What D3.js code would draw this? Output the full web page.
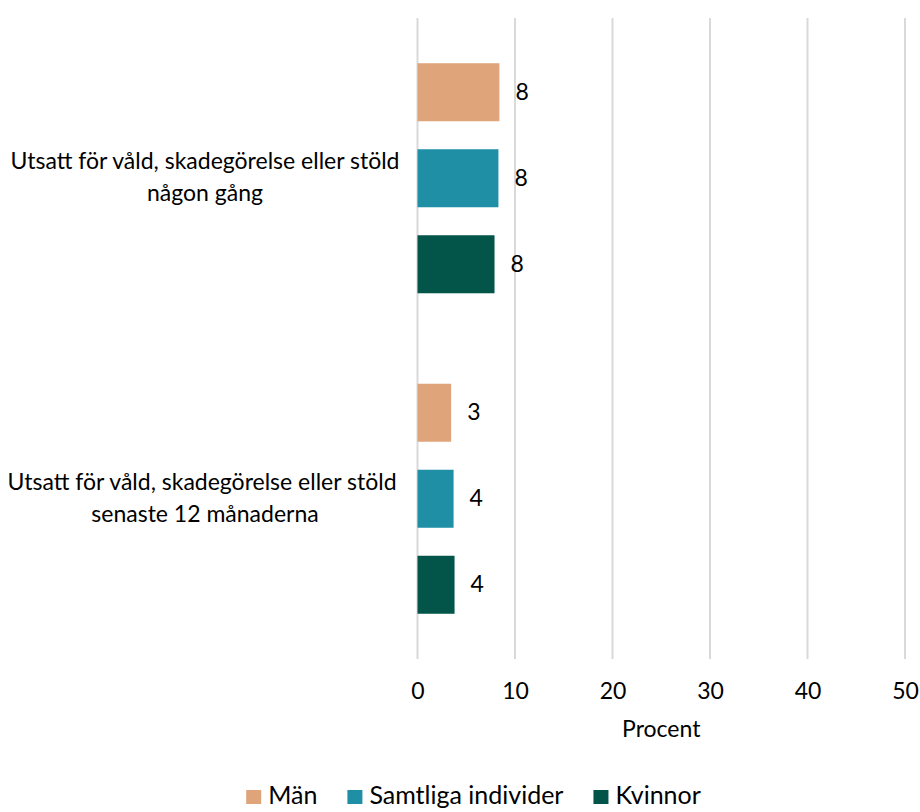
<!DOCTYPE html>
<html>
<head>
<meta charset="utf-8">
<script src="https://cdn.jsdelivr.net/npm/d3@7"></script>
<style>
  html, body { margin: 0; padding: 0; background: #fff; }
  svg { display: block; }
  text { font-family: Lato, "Open Sans", sans-serif; fill: #000; }
</style>
</head>
<body>
<svg id="chart" width="920" height="812"></svg>
<script>
// ---- data ----
const categories = [
  "Utsatt för våld, skadegörelse eller stöld\nnågon gång",
  "Utsatt för våld, skadegörelse eller stöld \nsenaste 12 månaderna"
];
const seriesNames = ["Män", "Samtliga individer", "Kvinnor"];
const manValues = [8.4, 3.45];
const samtligaValues = [8.3, 3.7];
const kvinnorValues = [7.9, 3.8];
const xTicks = [0, 10, 20, 30, 40, 50];
const xAxisTitle = "Procent";
const seriesColors = ["#E0A47A", "#1F8FA5", "#03554A"];

// ---- layout ----
const W = 920, H = 812;
const plot = { left: 417.5, right: 905, top: 18, bottom: 659 };
const fs = 23;
const legendFs = 25;

const svg = d3.select("#chart");

const seriesValues = [manValues, samtligaValues, kvinnorValues];
const rows = categories.map((c, i) => ({
  cat: c,
  vals: seriesNames.map((s, j) => ({ series: s, value: seriesValues[j][i], color: seriesColors[j] }))
}));

const x = d3.scaleLinear().domain([0, 50]).range([plot.left, plot.right]);
const y0 = d3.scaleBand().domain(categories).range([plot.top, plot.bottom]).padding(0);
const y1 = d3.scaleBand().domain(seriesNames).range([0, y0.bandwidth()])
  .paddingInner(28 / 86).paddingOuter(0.526);

// gridlines
svg.append("g").selectAll("line").data(xTicks).join("line")
  .attr("x1", d => x(d)).attr("x2", d => x(d))
  .attr("y1", plot.top).attr("y2", plot.bottom)
  .attr("stroke", "#d9d9d9").attr("stroke-width", 2);

// x tick labels via axis
const xAxis = svg.append("g").attr("transform", `translate(0, ${plot.bottom})`)
  .call(d3.axisBottom(x).tickValues(xTicks).tickSize(0).tickPadding(0).tickFormat(d3.format("d")));
xAxis.select(".domain").remove();
xAxis.selectAll("text").attr("font-size", fs).attr("font-family", "Lato, sans-serif")
  .attr("fill", "#000").attr("dy", null).attr("y", 34).attr("dominant-baseline", "middle");

svg.append("text").attr("x", (x(0) + x(50)) / 2).attr("y", 731)
  .attr("text-anchor", "middle").attr("dominant-baseline", "middle")
  .attr("font-size", fs).text(xAxisTitle);

// bars
const groups = svg.append("g").selectAll("g").data(rows).join("g")
  .attr("transform", d => `translate(0, ${y0(d.cat)})`);

groups.selectAll("rect").data(d => d.vals).join("rect")
  .attr("x", x(0))
  .attr("y", d => y1(d.series))
  .attr("width", d => x(d.value) - x(0))
  .attr("height", y1.bandwidth())
  .attr("fill", d => d.color);

groups.selectAll("text.val").data(d => d.vals).join("text")
  .attr("class", "val")
  .attr("x", d => x(d.value) + 16)
  .attr("y", d => y1(d.series) + y1.bandwidth() / 2 + 1.5)
  .attr("dominant-baseline", "middle")
  .attr("font-size", fs)
  .text(d => d3.format(".0f")(d.value));

// category labels
const catLabels = svg.append("g").selectAll("text").data(categories).join("text")
  .attr("text-anchor", "middle")
  .attr("font-size", fs)
  .attr("transform", d => `translate(205, ${y0(d) + y0.bandwidth() / 2 + 1})`);
catLabels.each(function (d) {
  const lines = d.split("\n");
  const t = d3.select(this);
  lines.forEach((ln, i) => {
    t.append("tspan").attr("x", 0)
      .attr("y", (i - (lines.length - 1) / 2) * 32)
      .attr("dominant-baseline", "middle")
      .style("white-space", "pre")
      .text(ln);
  });
});

// legend
const legend = svg.append("g");
const items = legend.selectAll("g").data(seriesNames).join("g");
items.append("rect").attr("width", 15).attr("height", 14).attr("y", -7)
  .attr("fill", (d, i) => seriesColors[i]);
items.append("text").attr("x", 22).attr("y", 1).attr("dominant-baseline", "middle")
  .attr("font-size", legendFs).text(d => d);
let cx = 0;
items.each(function () {
  const w = this.getBBox().width;
  d3.select(this).attr("transform", `translate(${cx}, 797)`);
  cx += w + 30;
});
const total = cx - 30;
legend.attr("transform", `translate(${473.5 - total / 2}, 0)`);
</script>
</body>
</html>
